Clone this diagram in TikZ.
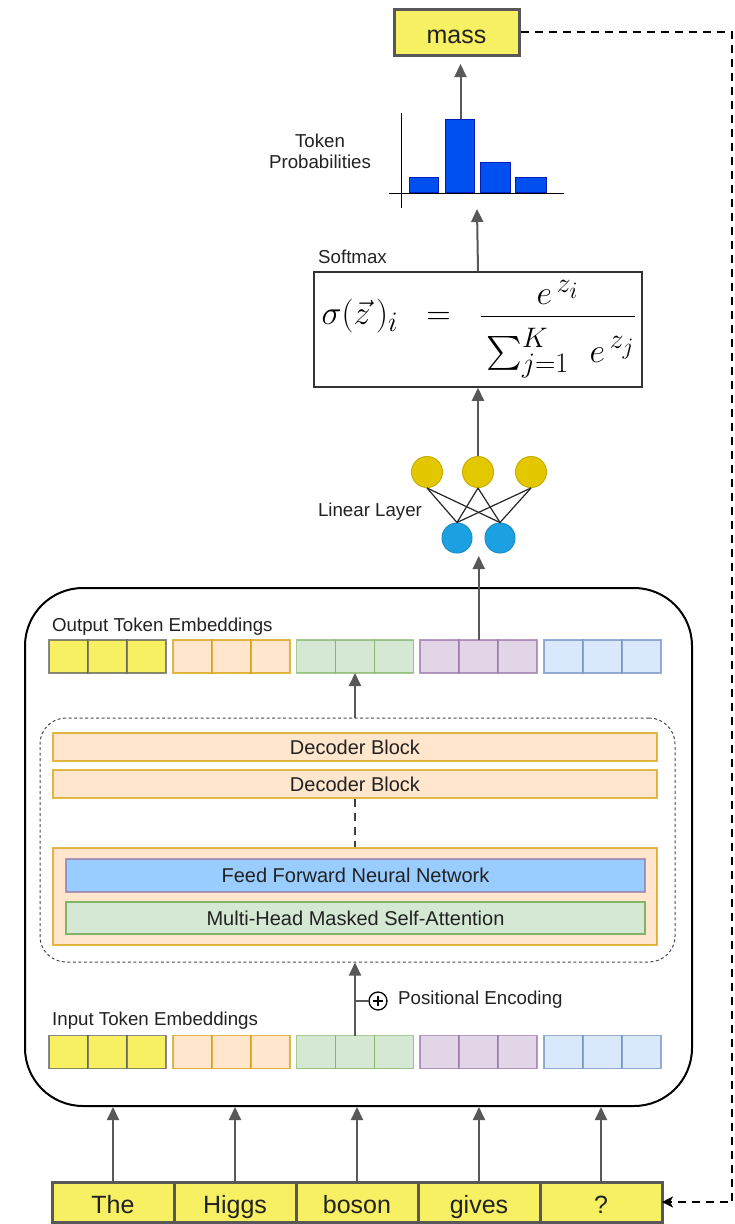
\documentclass[tikz,border=0pt]{standalone}
\usepackage{amsmath}
\usepackage{fontspec}
\setmainfont{Liberation Sans}
\usetikzlibrary{arrows.meta}

\definecolor{tokfill}{RGB}{247,240,98}
\definecolor{tokdraw}{RGB}{88,88,88}
\definecolor{orfill}{HTML}{FFE6CC}\definecolor{ordraw}{HTML}{D79B00}
\definecolor{grfill}{HTML}{D5E8D4}\definecolor{grdraw}{HTML}{82B366}
\definecolor{pufill}{HTML}{E1D5E7}\definecolor{pudraw}{HTML}{9673A6}
\definecolor{blfill}{HTML}{DAE8FC}\definecolor{bldraw}{HTML}{6C8EBF}
\definecolor{ffnnfill}{HTML}{99CCFF}
\definecolor{ylcirc}{HTML}{E3C800}\definecolor{ylcircd}{HTML}{C8B000}
\definecolor{bucirc}{HTML}{1BA1E2}\definecolor{bucircd}{HTML}{1A8CC8}
\definecolor{barfill}{HTML}{0050EF}\definecolor{bardraw}{HTML}{001DBC}
\definecolor{arrowgray}{HTML}{585858}
\definecolor{txt}{HTML}{222222}

\begin{document}
\begin{tikzpicture}[x=1pt,y=-1pt,
  lbl/.style={font=\fontsize{18.7}{22}\selectfont, text=txt, inner sep=0pt},
  blocktxt/.style={font=\fontsize{20}{24}\selectfont, text=txt},
  cell/.style={minimum width=39pt, minimum height=33pt, inner sep=0pt, outer sep=0pt,
               line width=1.6pt, draw opacity=0.7},
  token/.style={minimum width=122pt, minimum height=40pt, inner sep=0pt, outer sep=0pt,
               line width=3pt, draw=tokdraw, fill=tokfill,
               font=\fontsize{25}{30}\selectfont, text=txt, text height=22pt, text depth=0pt},
  decblock/.style={minimum width=604pt, inner sep=0pt, line width=1.8pt,
               fill=orfill, draw=ordraw, draw opacity=0.7},
  arr/.style={draw=arrowgray, line width=2pt, -{Triangle[length=13pt,width=12pt]}},
  ycirc/.style={circle, minimum size=31pt, inner sep=0pt, fill=ylcirc, draw=ylcircd, line width=1pt},
  bcirc/.style={circle, minimum size=30pt, inner sep=0pt, fill=bucirc, draw=bucircd, line width=1pt},
  bar/.style={anchor=south, inner sep=0pt, fill=barfill, draw=bardraw, line width=0.8pt},
  wire/.style={draw=black!85, line width=1.2pt}
]
\fill[white] (0,0) rectangle (735,1224);
\useasboundingbox (0,0) rectangle (735,1224);

% ---------- transformer container ----------
\node[draw=black, line width=2pt, rounded corners=58pt, minimum width=667pt, minimum height=518pt]
  (outer) at (358.5,847) {};
\node[draw=black!70, line width=1pt, dash pattern=on 3pt off 2.5pt, rounded corners=26pt,
      minimum width=635pt, minimum height=244pt] (dbox) at (357.5,840) {};

% decoder stack
\node[decblock, minimum height=28pt, blocktxt] (db1) at (355,747) {Decoder Block};
\node[decblock, minimum height=28pt, blocktxt] (db2) at (355,784) {Decoder Block};
\node[decblock, minimum height=97pt] (db3) at (355,896.5) {};
\node[minimum width=579pt, minimum height=33pt, inner sep=0pt, fill=ffnnfill, draw=pudraw,
      draw opacity=0.7, line width=1.6pt, blocktxt] (ffnn) at (355.5,875.5) {Feed Forward Neural Network};
\node[minimum width=579pt, minimum height=32pt, inner sep=0pt, fill=grfill, draw=grdraw,
      line width=1.6pt, blocktxt] (mhsa) at (355.5,918) {Multi-Head Masked Self-Attention};
\draw[draw=black!75, line width=1.2pt, dash pattern=on 8pt off 6pt] (db2.south) -- (db3.north);

% ---------- token embeddings ----------
\foreach \g/\f/\d in {0/tokfill/tokdraw,1/orfill/ordraw,2/grfill/grdraw,3/pufill/pudraw,4/blfill/bldraw}{
  \foreach \c in {0,1,2}{
    \node[cell, fill=\f, draw=\d] (out-\g-\c) at ({49+123.75*\g+19.5+39*\c},656.5) {};
    \node[cell, fill=\f, draw=\d] (in-\g-\c)  at ({49+123.75*\g+19.5+39*\c},1052) {};
  }
}
\node[lbl, anchor=west] (outlbl) at (52,627) {Output Token Embeddings};
\node[lbl, anchor=west] (inlbl) at (52,1021) {Input Token Embeddings};

% positional encoding
\node[circle, draw=black, line width=1.3pt, minimum size=18pt, inner sep=0pt] (pe) at (378,1001) {};
\draw[line width=1.8pt] (pe.center) ++(-5,0) -- ++(10,0) (pe.center) ++(0,-5) -- ++(0,10);
\draw[draw=arrowgray, line width=1.2pt] (pe.west) -- (pe.west -| in-2-1.center);
\node[lbl, anchor=west] (pelbl) at (398,1000) {Positional Encoding};

\draw[arr] (in-2-1.north) -- (in-2-1.north |- dbox.south);
\draw[arr] (dbox.north -| out-2-1.center) -- (out-2-1.south);

% ---------- input tokens ----------
\foreach \i/\w in {1/The,2/Higgs,3/boson,4/gives,5/?}{
  \node[token] (t\i) at ({52+122*(\i-1)+61},1202) {\w};
  \draw[arr] (t\i.north) -- (t\i.north |- outer.south);
}

% ---------- linear layer ----------
\node[ycirc] (y1) at (427,472) {};
\node[ycirc] (y2) at (478,472) {};
\node[ycirc] (y3) at (531,472) {};
\node[bcirc] (b1) at (457,538) {};
\node[bcirc] (b2) at (500,538) {};
\foreach \a in {y1,y2,y3}{
  \foreach \b in {b1,b2}{
    \draw[wire] (\a.south) -- (\b.north);
  }
}
\node[lbl] (lllbl) at (370,512) {Linear Layer};
\coordinate (llin) at (478.75,556);
\draw[arr] (out-3-1.north) -- (llin);

% ---------- softmax ----------
\node[draw=black!80, line width=1.5pt, minimum width=328pt, minimum height=115pt, inner sep=0pt]
  (sm) at (478,329.5) {};
\node[inner sep=0pt] (formula) at (479,329)
  {\scalebox{1.36}{\Huge $\sigma(\vec{z}\,)_i \;\;=\;\; \frac{\textstyle e^{\,z_i}\rule[-0.28em]{0pt}{0.3em}}{\textstyle\rule{0pt}{1.3em}\sum_{j=1}^{K}\;\, e^{\,z_j}}$}};
\node[lbl, anchor=west] (smlbl) at (318,257) {Softmax};
\draw[arr] (y2.north) -- (y2.north |- sm.south);

% ---------- token probabilities ----------
\draw[black, line width=1pt] (401,113) -- (401,208);
\draw[black, line width=1pt] (389,193) -- (564,193);
\node[bar, minimum width=29pt, minimum height=15pt] (p1) at (423.5,193) {};
\node[bar, minimum width=29pt, minimum height=73pt] (p2) at (459.5,193) {};
\node[bar, minimum width=30pt, minimum height=30pt] (p3) at (495,193) {};
\node[bar, minimum width=31pt, minimum height=15pt] (p4) at (530.5,193) {};
\node[lbl, align=center] (problbl) at (320,151) {Token\\[-1pt]Probabilities};
\coordinate (histin) at (477,209);
\draw[arr] (sm.north) -- (histin);

% ---------- predicted token ----------
\node[minimum width=125pt, minimum height=46pt, inner sep=0pt, line width=3pt, draw=tokdraw,
      fill=tokfill, font=\fontsize{25}{30}\selectfont, text=txt, text height=22pt, text depth=0pt]
  (mass) at (456.5,32) {mass};
\coordinate (massin) at (460.5,64);
\draw[arr] (p2.north -| massin) -- (massin);

% feedback of the prediction into the input sequence
\draw[black, line width=2pt, dash pattern=on 8pt off 6pt, -{Stealth[length=11pt,width=11pt,inset=3pt]}]
  (mass.east) -- (732,32) |- (t5.east);
\end{tikzpicture}
\end{document}
